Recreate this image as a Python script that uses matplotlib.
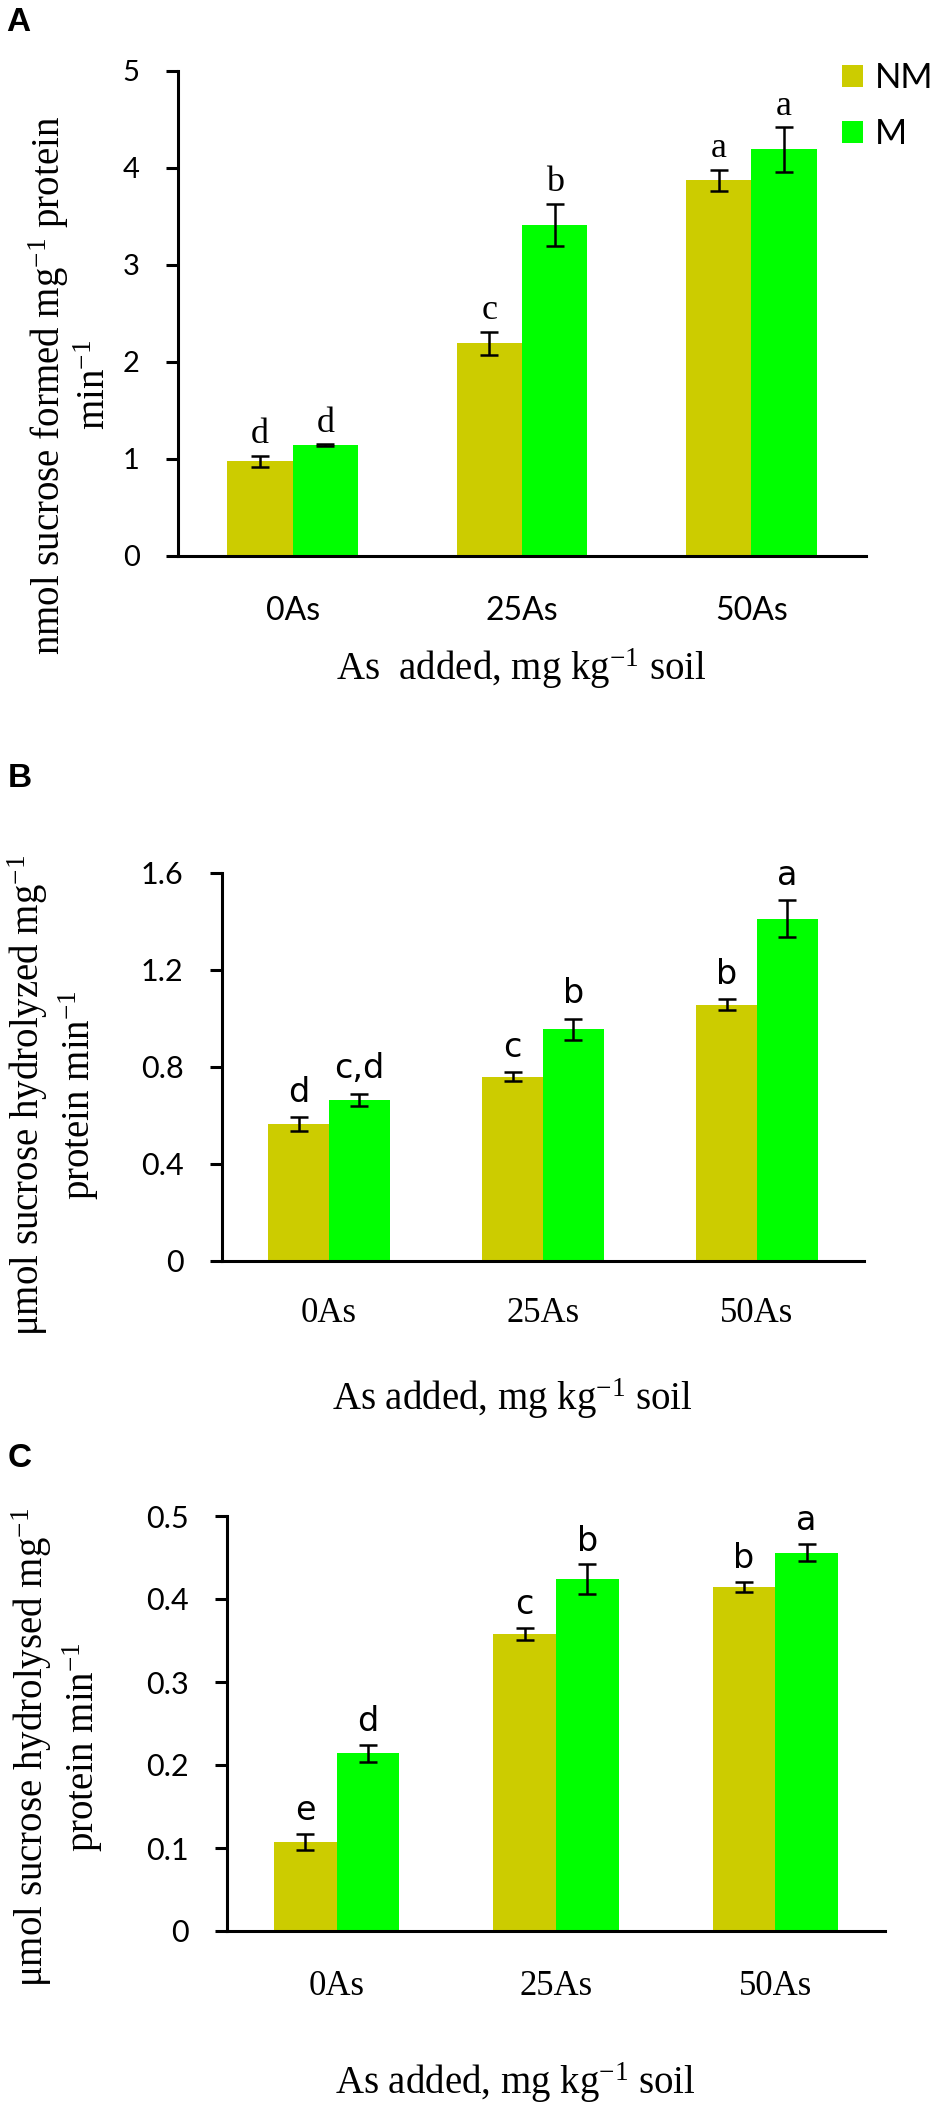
import matplotlib
matplotlib.use('Agg')
import matplotlib.pyplot as plt
import numpy as np

plt.rcParams['mathtext.fontset'] = 'custom'
plt.rcParams['mathtext.rm'] = 'Liberation Serif'
plt.rcParams['mathtext.it'] = 'Liberation Serif:italic'
plt.rcParams['mathtext.bf'] = 'Liberation Serif:bold'

W, H = 935, 2107

groups = ['0As', '25As', '50As']
series = ['NM', 'M']
colors = ['#CCCC00', '#00FF00']

# panel A: sucrose formed
a_nm = [0.97, 2.19, 3.87]
a_nm_err = [0.06, 0.12, 0.11]
a_m = [1.14, 3.41, 4.19]
a_m_err = [0.01, 0.22, 0.23]
a_nm_let = ['d', 'c', 'a']
a_m_let = ['d', 'b', 'a']
a_yticks = [0, 1, 2, 3, 4, 5]

# panel B: sucrose hydrolyzed
b_nm = [0.563, 0.759, 1.057]
b_nm_err = [0.03, 0.019, 0.023]
b_m = [0.663, 0.955, 1.412]
b_m_err = [0.026, 0.043, 0.076]
b_nm_let = ['d', 'c', 'b']
b_m_let = ['c,d', 'b', 'a']
b_yticks = [0, 0.4, 0.8, 1.2, 1.6]

# panel C: sucrose hydrolysed
c_nm = [0.107, 0.358, 0.415]
c_nm_err = [0.0096, 0.007, 0.006]
c_m = [0.214, 0.424, 0.456]
c_m_err = [0.01, 0.0176, 0.01]
c_nm_let = ['e', 'c', 'b']
c_m_let = ['d', 'b', 'a']
c_yticks = [0, 0.1, 0.2, 0.3, 0.4, 0.5]

SANS = ['Lato', 'DejaVu Sans']
SERIF = ['Liberation Serif', 'DejaVu Serif']
NARROW = ['Liberation Sans Narrow', 'DejaVu Sans']


def fx(p):
    return p / W


def fy(p):
    return 1 - p / H


def rect(left, top, right, bottom):
    return [fx(left), fy(bottom), (right - left) / W, (bottom - top) / H]


def panel(ax, nm, nm_err, m, m_err, nm_let, m_let, yticks,
          ytick_size, xtick_font, xtick_size, xpad, let_font, let_size, let_gap):
    x = np.arange(len(groups))
    w = 0.285
    ekw = dict(ecolor='black', elinewidth=1.8, capthick=1.8)
    bars = []
    for off, vals, errs, labs, col, name in [(-w / 2, nm, nm_err, nm_let, colors[0], series[0]),
                                             (w / 2, m, m_err, m_let, colors[1], series[1])]:
        b = ax.bar(x + off, vals, w, yerr=errs, color=col, capsize=6.5,
                   error_kw=ekw, label=name, zorder=2)
        bars.append(b)
        for xi, v, e, t in zip(x + off, vals, errs, labs):
            ax.annotate(t, (xi, v + e), xytext=(0, let_gap), textcoords='offset points',
                        ha='center', va='bottom', fontsize=let_size, family=let_font)
    ax.set_xlim(-0.5, len(groups) - 0.5)
    ax.set_ylim(0, yticks[-1])
    ax.set_yticks(yticks)
    ax.set_yticklabels([f'{t:g}' for t in yticks], fontsize=ytick_size, family=SANS)
    ax.set_xticks(x)
    ax.set_xticklabels(groups, fontsize=xtick_size, family=xtick_font)
    for s in ['top', 'right']:
        ax.spines[s].set_visible(False)
    for s in ['left', 'bottom']:
        ax.spines[s].set_linewidth(2.2)
    ax.tick_params(axis='y', direction='out', length=8.6, width=2.2, pad=19)
    ax.tick_params(axis='x', length=0, pad=xpad)
    return bars


fig = plt.figure(figsize=(W / 100, H / 100), dpi=100)
fig.patch.set_facecolor('white')

ax_a = fig.add_axes(rect(178, 70.7, 866, 555.5))
bars = panel(ax_a, a_nm, a_nm_err, a_m, a_m_err, a_nm_let, a_m_let, a_yticks,
             21, SANS, 23, 29, SERIF, 26, 3)
ax_b = fig.add_axes(rect(222, 873, 864, 1260.5))
panel(ax_b, b_nm, b_nm_err, b_m, b_m_err, b_nm_let, b_m_let, b_yticks,
      22, SERIF, 25, 26, NARROW, 24, 6)
ax_c = fig.add_axes(rect(227, 1516, 885, 1931))
panel(ax_c, c_nm, c_nm_err, c_m, c_m_err, c_nm_let, c_m_let, c_yticks,
      22, SERIF, 25, 28, NARROW, 24, 5)

ax_a.legend(handles=bars, loc='upper left', bbox_to_anchor=(fx(842), fy(62)),
            bbox_transform=fig.transFigure, frameon=False, borderpad=0, borderaxespad=0,
            handlelength=0.6, handleheight=0.6, handletextpad=0.35, labelspacing=0.7,
            prop={'family': SANS, 'size': 25})

# axis titles
lab = dict(rotation=90, ha='center', va='center', multialignment='center',
           fontsize=28, family=SERIF, linespacing=1.2)
fig.text(fx(70), fy(385), 'nmol sucrose formed mg$^{-1}$ protein\nmin$^{-1}$', **lab)
fig.text(fx(53), fy(1095), 'μmol sucrose hydrolyzed mg$^{-1}$\nprotein min$^{-1}$', **lab)
fig.text(fx(57), fy(1747), 'μmol sucrose hydrolysed mg$^{-1}$\nprotein min$^{-1}$', **lab)

xl = dict(ha='center', va='baseline', fontsize=28, family=SERIF)
fig.text(fx(521), fy(680), 'As  added, mg kg$^{-1}$ soil', **xl)
fig.text(fx(512), fy(1410), 'As added, mg kg$^{-1}$ soil', **xl)
fig.text(fx(515), fy(2094), 'As added, mg kg$^{-1}$ soil', **xl)

pl = dict(ha='left', va='top', fontsize=24, fontweight='bold', family=['Liberation Sans', 'DejaVu Sans'])
fig.text(fx(6), fy(7), 'A', **pl)
fig.text(fx(8), fy(763), 'B', **pl)
fig.text(fx(8), fy(1443), 'C', **pl)

fig.savefig('out.png', dpi=100, facecolor='white')
